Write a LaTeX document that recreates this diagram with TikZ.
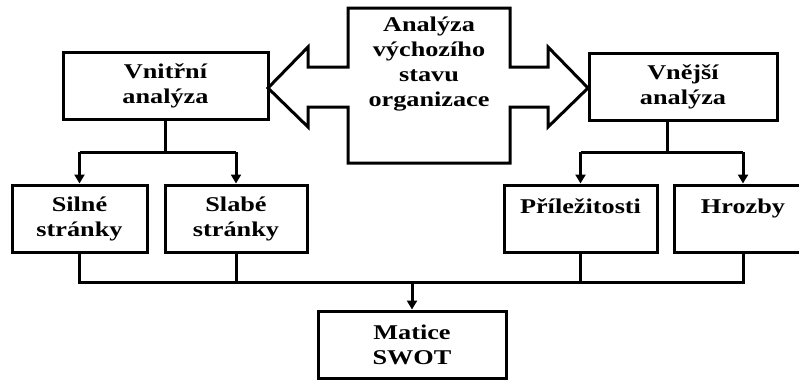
\documentclass[tikz,border=0pt]{standalone}
\usepackage{fontspec}
\setmainfont{Liberation Serif}[FakeStretch=1.25]
\usetikzlibrary{arrows.meta}
\tikzset{box/.style={draw, line width=3pt, align=center, inner sep=0pt, minimum height=67pt},
  wire/.style={line width=3pt}}

\begin{document}
\begin{tikzpicture}[x=1pt,y=-1pt,>={Triangle[width=10pt,length=9pt]}, line join=miter,
    font=\bfseries\fontsize{21}{25}\selectfont]
    \useasboundingbox (0,0) rectangle (799,381);
    % stredni dvojita sipka
    \draw[wire] (268,88) -- (308,47) -- (308,67) -- (348,67) -- (348,8) -- (510,8) -- (510,67)
        -- (548,67) -- (548,47) -- (588,88) -- (548,127) -- (548,107) -- (510,107) -- (510,163)
        -- (348,163) -- (348,107) -- (308,107) -- (308,127) -- cycle;
    \node (vychozi) at (429,64) [align=center]{Analýza\\výchozího\\stavu\\organizace};
    % analyzy
    \node[box, minimum width=205pt] (vnitrni) at (165.5,86) {Vnitřní\\analýza};
    \node[box, minimum width=188pt] (vnejsi) at (683,86.5) {Vnější\\analýza};
    \node[box, minimum width=135pt] (silne) at (79.5,218.5) {Silné\\stránky};
    \node[box, minimum width=142pt] (slabe) at (236,218.5) {Slabé\\stránky};
    \node[box, minimum width=153pt] (prilez) at (580.5,218.5) {Příležitosti\\~};
    \node[box, minimum width=138pt] (hrozby) at (743,218.5) {Hrozby\\~};
    \node[box, minimum width=188pt] (matice) at (412,344.5) {Matice\\SWOT};
    % spojnice
    \coordinate (vl) at (165.5,152);
    \coordinate (vr) at (667,152);
    \coordinate (bus) at (412,282);
    \draw[wire] (vnitrni.south) -- (vl);
    \draw[wire] (silne.north |- vl) -- (slabe.north |- vl);
    \draw[wire,->] (silne.north |- vl) -- (silne.north);
    \draw[wire,->] (slabe.north |- vl) -- (slabe.north);
    \draw[wire] (vr |- vnejsi.south) -- (vr);
    \draw[wire] (prilez.north |- vr) -- (hrozby.north |- vr);
    \draw[wire,->] (prilez.north |- vr) -- (prilez.north);
    \draw[wire,->] (hrozby.north |- vr) -- (hrozby.north);
    \draw[wire] (silne.south) -- (silne.south |- bus) -- (hrozby.south |- bus) -- (hrozby.south);
    \draw[wire] (slabe.south) -- (slabe.south |- bus);
    \draw[wire] (prilez.south) -- (prilez.south |- bus);
    \draw[wire,->] (bus) -- (matice.north);
\end{tikzpicture}
\end{document}
